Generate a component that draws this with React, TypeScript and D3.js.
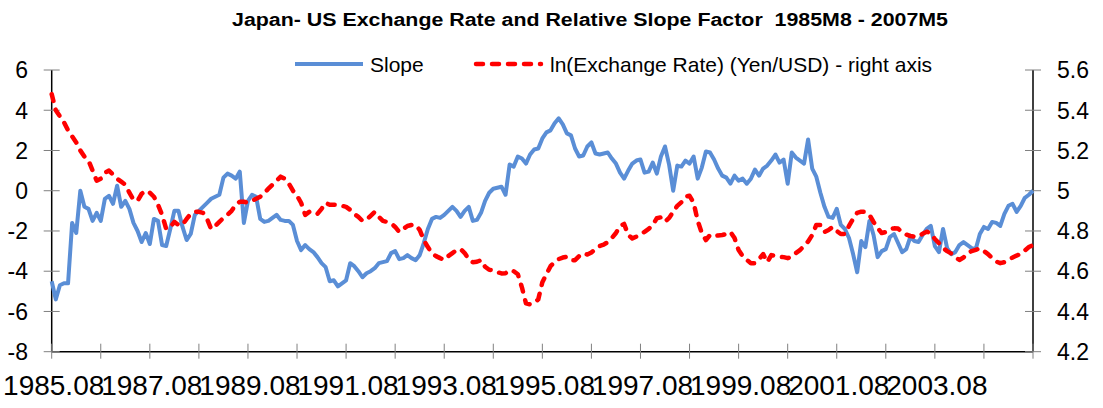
import * as React from "react";
import * as d3 from "d3";

// Monthly observations, 1985.08 onwards (241 categories on the axis)
const slope = [
  -4.5, -5.4, -4.7, -4.6, -4.6, -1.6, -2.1, 0.0, -0.8, -0.9,
  -1.5, -1.1, -1.5, -0.4, -0.25, -0.65, 0.25, -0.8, -0.5, -0.9,
  -1.6, -2.0, -2.55, -2.1, -2.65, -1.4, -1.5, -2.7, -2.75, -1.9,
  -1.0, -1.0, -1.8, -2.45, -2.15, -1.2, -1.0, -0.8, -0.6, -0.4,
  -0.3, -0.2, 0.65, 0.85, 0.75, 0.6, 0.95, -1.6, -0.5, -0.2,
  -0.3, -1.4, -1.55, -1.5, -1.35, -1.2, -1.45, -1.5, -1.5, -1.7,
  -2.5, -2.95, -2.7, -2.9, -3.05, -3.3, -3.6, -3.8, -4.5, -4.45,
  -4.75, -4.6, -4.45, -3.6, -3.75, -4.0, -4.3, -4.1, -4.0, -3.85,
  -3.6, -3.55, -3.5, -3.1, -3.0, -3.4, -3.35, -3.2, -3.35, -3.45,
  -3.2, -2.6, -1.9, -1.4, -1.3, -1.35, -1.2, -1.0, -0.8, -1.0,
  -1.3, -1.0, -0.8, -1.5, -1.45, -1.1, -0.5, -0.1, 0.1, 0.15,
  0.2, -0.2, 1.3, 1.2, 1.7, 1.6, 1.35, 1.8, 2.05, 2.1,
  2.6, 2.9, 3.0, 3.35, 3.6, 3.3, 2.85, 2.75, 2.1, 1.7,
  1.75, 2.2, 2.4, 1.85, 1.8, 1.85, 1.9, 1.6, 1.35, 0.9,
  0.6, 1.0, 1.35, 1.5, 1.55, 0.9, 0.95, 1.4, 0.85, 1.7,
  2.2, 1.3, 0.0, 1.25, 1.2, 1.5, 1.35, 1.7, 0.6, 1.15,
  1.95, 1.9, 1.55, 1.1, 0.75, 0.65, 0.35, 0.75, 0.5, 0.6,
  0.35, 0.6, 1.05, 0.75, 1.1, 1.25, 1.5, 1.8, 1.4, 1.55,
  0.35, 1.9, 1.65, 1.5, 1.35, 2.55, 1.1, 0.7, -0.1, -0.8,
  -1.3, -1.35, -0.9, -1.7, -1.9, -2.35, -3.15, -4.05, -2.5, -2.8,
  -1.5, -2.2, -3.3, -3.0, -2.9, -2.3, -2.15, -2.6, -3.05, -2.9,
  -2.3, -2.5, -2.55, -2.2, -1.9, -1.75, -2.75, -3.05, -1.9, -2.85,
  -3.15, -3.05, -2.7, -2.55, -2.7, -2.85, -2.9, -2.15, -1.8, -1.9,
  -1.55, -1.6, -1.75, -1.15, -0.75, -0.65, -1.05, -0.75, -0.35, -0.2,
  0.0,
];

const lnRate = [
  5.48, 5.40, 5.37, 5.34, 5.30, 5.27, 5.24, 5.20, 5.17, 5.15,
  5.10, 5.05, 5.06, 5.09, 5.10, 5.08, 5.06, 5.045, 5.03, 4.99,
  4.955, 4.95, 4.985, 5.0, 4.99, 4.97, 4.93, 4.88, 4.81, 4.82,
  4.845, 4.83, 4.83, 4.86, 4.885, 4.895, 4.895, 4.89, 4.86, 4.81,
  4.825, 4.845, 4.865, 4.88, 4.9, 4.93, 4.945, 4.945, 4.94, 4.95,
  4.96, 4.97, 4.99, 5.01, 5.03, 5.05, 5.07, 5.06, 5.035, 5.0,
  4.975, 4.94, 4.88, 4.895, 4.895, 4.885, 4.91, 4.94, 4.93, 4.93,
  4.93, 4.925, 4.92, 4.905, 4.885, 4.87, 4.85, 4.855, 4.875, 4.895,
  4.87, 4.85, 4.845, 4.838, 4.82, 4.795, 4.81, 4.825, 4.83, 4.83,
  4.805, 4.755, 4.72, 4.69, 4.675, 4.665, 4.656, 4.675, 4.69, 4.705,
  4.71, 4.69, 4.66, 4.645, 4.647, 4.655, 4.622, 4.607, 4.606, 4.595,
  4.589, 4.59, 4.605, 4.6, 4.585, 4.52, 4.44, 4.435, 4.443, 4.46,
  4.545, 4.585, 4.625, 4.645, 4.66, 4.668, 4.672, 4.655, 4.655, 4.675,
  4.689, 4.683, 4.693, 4.71, 4.725, 4.732, 4.745, 4.765, 4.79, 4.825,
  4.835, 4.78, 4.763, 4.772, 4.782, 4.796, 4.81, 4.83, 4.863, 4.868,
  4.846, 4.865, 4.895, 4.925, 4.943, 4.97, 4.975, 4.94, 4.85, 4.79,
  4.755, 4.78, 4.774, 4.778, 4.78, 4.785, 4.795, 4.765, 4.705, 4.675,
  4.656, 4.64, 4.64, 4.66, 4.685, 4.645, 4.68, 4.675, 4.672, 4.67,
  4.665, 4.672, 4.69, 4.705, 4.725, 4.748, 4.78, 4.83, 4.83, 4.795,
  4.805, 4.82, 4.8, 4.785, 4.785, 4.825, 4.86, 4.89, 4.896, 4.895,
  4.88, 4.845, 4.815, 4.79, 4.795, 4.81, 4.813, 4.812, 4.792, 4.782,
  4.775, 4.772, 4.772, 4.786, 4.796, 4.79, 4.76, 4.74, 4.715, 4.70,
  4.688, 4.67, 4.656, 4.668, 4.69, 4.7, 4.706, 4.714, 4.7, 4.685,
  4.665, 4.648, 4.64, 4.645, 4.655, 4.668, 4.678, 4.685, 4.703, 4.72,
  4.73,
];

const leftTicks = [6, 4, 2, 0, -2, -4, -6, -8];
const rightTicks = [5.6, 5.4, 5.2, 5.0, 4.8, 4.6, 4.4, 4.2];
const xLabels = ["1985.08", "1987.08", "1989.08", "1991.08", "1993.08", "1995.08", "1997.08", "1999.08", "2001.08", "2003.08"];

const W = 1103;
const H = 408;
const FONT = "'Liberation Sans', Arial, sans-serif";
const BLUE = "#5A8ED6";
const RED = "#FF0000";
const DASH = "7 9";

export default function App() {
  const left = 51.7;
  const right = 1033;
  const top = 70;
  const bottom = 351.7;

  const n = slope.length;
  const x = d3.scaleLinear().domain([0, n - 1]).range([left, right]);
  const yL = d3.scaleLinear().domain([-8, 6]).range([bottom, top]);
  const yR = d3.scaleLinear().domain([4.2, 5.6]).range([bottom, top]);

  const slopeLine = d3.line<number>().x((_, i) => x(i)).y(d => yL(d));
  const rateLine = d3.line<number>().x((_, i) => x(i)).y(d => yR(d));

  const xTicks = d3.range(0, n, 12);

  return (
    <svg width={W} height={H} style={{ position: "absolute", left: 0, top: 0, background: "#fff" }} fontFamily={FONT}>
      <rect width={W} height={H} fill="#fff" />
      <text x={590} y={26} textAnchor="middle" fontSize={18} fontWeight="bold" textLength={716} lengthAdjust="spacingAndGlyphs" style={{ whiteSpace: "pre" }}>
        {"Japan- US Exchange Rate and Relative Slope Factor  1985M8 - 2007M5"}
      </text>

      {/* legend */}
      <line x1={295} x2={363} y1={64} y2={64} stroke={BLUE} strokeWidth={4} />
      <text x={370} y={64} dy="0.36em" fontSize={21}>Slope</text>
      <line x1={476} x2={541} y1={64} y2={64} stroke={RED} strokeWidth={4.5} strokeDasharray={DASH} strokeLinecap="round" />
      <text x={550} y={64} dy="0.36em" fontSize={21}>ln(Exchange Rate) (Yen/USD) - right axis</text>

      {/* axes */}
      <line x1={left} x2={left} y1={top} y2={bottom} stroke="#000" strokeWidth={1.5} />
      <line x1={right} x2={right} y1={top} y2={bottom} stroke="#000" strokeWidth={1.5} />
      <line x1={left} x2={right} y1={bottom} y2={bottom} stroke="#000" strokeWidth={1.5} />

      {leftTicks.map(t => (
        <g key={"l" + t}>
          <line x1={left - 8} x2={left + 8} y1={yL(t)} y2={yL(t)} stroke="#808080" strokeWidth={1} />
          <text x={28} y={yL(t)} dy="0.36em" textAnchor="end" fontSize={23}>{t}</text>
        </g>
      ))}
      {rightTicks.map(t => (
        <g key={"r" + t}>
          <line x1={right - 8} x2={right + 8} y1={yR(t)} y2={yR(t)} stroke="#808080" strokeWidth={1} />
          <text x={1057} y={yR(t)} dy="0.36em" fontSize={23}>{t === 5 ? "5" : t.toFixed(1)}</text>
        </g>
      ))}
      {xTicks.map(i => (
        <line key={"x" + i} x1={x(i)} x2={x(i)} y1={bottom - 8} y2={bottom + 7} stroke="#808080" strokeWidth={1} />
      ))}
      {xLabels.map((lab, k) => (
        <text key={lab} x={x(k * 24) + 2} y={395} textAnchor="middle" fontSize={28}>{lab}</text>
      ))}

      <path d={slopeLine(slope) ?? ""} fill="none" stroke={BLUE} strokeWidth={4} strokeLinejoin="round" />
      <path d={rateLine(lnRate) ?? ""} fill="none" stroke={RED} strokeWidth={4.5} strokeDasharray={DASH} strokeLinecap="round" strokeLinejoin="round" />
    </svg>
  );
}
